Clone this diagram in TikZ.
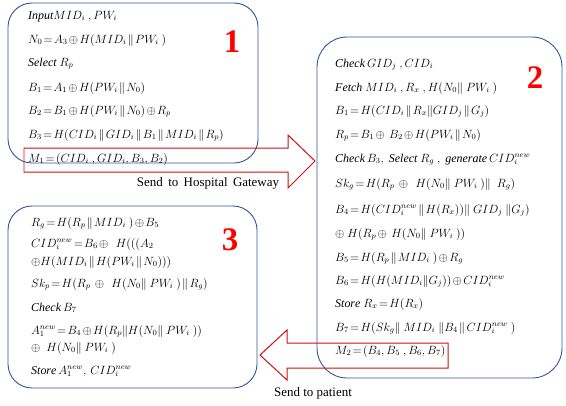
\documentclass[tikz,border=0pt]{standalone}
\usepackage{fontspec}
\setmainfont{Liberation Serif}
\definecolor{boxblue}{HTML}{2F5597}
\definecolor{arrred}{HTML}{D01010}
\definecolor{numred}{HTML}{FF0000}
\begin{document}
\begin{tikzpicture}[x=1bp,y=-1bp,
  stepline/.style={anchor=base west,inner sep=0pt,font=\fontsize{12}{14}\selectfont},
  panel/.style={draw=boxblue,line width=0.9pt,rounded corners=24bp},
  bigarrow/.style={draw=arrred,line width=1pt},
  numlabel/.style={text=numred,font=\bfseries\fontsize{33}{36}\selectfont,inner sep=0pt},
  caption/.style={font=\fontsize{13}{15}\selectfont,inner sep=0pt}]
\useasboundingbox (0,0) rectangle (566,405);
\thickmuskip=2mu plus 2mu
\medmuskip=2mu plus 1mu
% panels
\draw[panel] (8,3) rectangle (258,163);
\draw[panel,rounded corners=30bp] (317,37) rectangle (562,378);
\draw[panel] (8,206) rectangle (257,388);
% arrows
\draw[bigarrow] (24,148) -- (288,148) -- (288,135) -- (315,161) -- (288,188) -- (288,172) -- (24,172) -- cycle;
\draw[bigarrow] (448,343) -- (287,343) -- (287,330) -- (260,355) -- (287,380) -- (287,368) -- (448,368) -- cycle;
% numbers
\node[numlabel] (n1) at (232,42) {1};
\node[numlabel] (n2) at (535,78) {2};
\node[numlabel] (n3) at (230,240) {3};
% captions
\node[caption] (c1) at (208,183) {Send\, to\, Hospital\, Gateway};
\node[caption] (c2) at (313,393) {Send to patient};
% box 1
\node[stepline] (a1) at (28,19) {$\mathit{Input}MID_i\ , PW_i$};
\node[stepline] (a2) at (28,43) {$N_0=A_3\oplus H(MID_i\parallel PW_i\ )$};
\node[stepline] (a3) at (28,66) {$\mathit{Select}\ R_p$};
\node[stepline] (a4) at (28,91) {$B_1=A_1\oplus H(PW_i\parallel N_0)$};
\node[stepline] (a5) at (28,114) {$B_2=B_1\oplus H(PW_i\parallel N_0)\oplus R_p$};
\node[stepline] (a6) at (28,138) {$B_3=H(CID_i\parallel GID_i\parallel B_1\parallel MID_i\parallel R_p)$};
\node[stepline] (a7) at (28,162) {$M_1=(CID_i\ , GID_i, B_3, B_2)$};
% box 2
\node[stepline] (b1) at (335,67) {$\mathit{Check}\,GID_j\ , CID_i$};
\node[stepline] (b2) at (335,91) {$\mathit{Fetch}\ MID_i\ , R_x\ , H(N_0\Vert\ PW_i\ )$};
\node[stepline] (b3) at (335,114) {$B_1=H(CID_i\parallel R_x\Vert GID_j\parallel G_j)$};
\node[stepline] (b4) at (335,138) {$R_p=B_1\oplus\ B_2\oplus H(PW_i\parallel N_0)$};
\node[stepline] (b5) at (335,162) {$\mathit{Check}\,B_3,\ \mathit{Select}\ R_g\ ,\ \mathit{generate}\,CID_i^{new}$};
\node[stepline] (b6) at (335,187) {$Sk_g=H(R_p\ \oplus\ \ H(N_0\Vert\ PW_i\ )\Vert\ \ R_g)$};
\node[stepline] (b7) at (335,213) {$B_4=H(CID_i^{new}\parallel H(R_x))\Vert\ GID_j\ \Vert G_j)$};
\node[stepline] (b8) at (335,237) {$\oplus\ H(R_p\oplus\ H(N_0\Vert\ PW_i\ ))$};
\node[stepline] (b9) at (335,261) {$B_5=H(R_p\parallel MID_i\ )\oplus R_g$};
\node[stepline] (b10) at (335,284) {$B_6=H(H(MID_i\Vert G_j))\oplus CID_i^{new}$};
\node[stepline] (b11) at (335,307) {$\mathit{Store}\ R_x=H(R_x)$};
\node[stepline] (b12) at (335,331) {$B_7=H(Sk_g\Vert\ MID_i\ \Vert B_4\parallel CID_i^{new}\ )$};
\node[stepline] (b13) at (335,354) {$M_2=(B_4, B_5\ , B_6, B_7)$};
% box 3
\node[stepline] (d1) at (31,226) {$R_g=H(R_p\parallel MID_i\ )\oplus B_5$};
\node[stepline] (d2) at (31,247) {$CID_i^{new}=B_6\oplus\ \ H(((A_2$};
\node[stepline] (d3) at (31,265) {$\oplus H(MID_i\parallel H(PW_i\parallel N_0)))$};
\node[stepline] (d4) at (31,287) {$Sk_p=H(R_p\ \oplus\ \ H(N_0\Vert\ PW_i\ )\parallel R_g)$};
\node[stepline] (d5) at (31,311) {$\mathit{Check}\,B_7$};
\node[stepline] (d6) at (31,334) {$A_1^{new}=B_4\oplus H(R_p\Vert H(N_0\Vert\ PW_i\ ))$};
\node[stepline] (d7) at (31,351) {$\oplus\ \ H(N_0\Vert\ PW_i\ )$};
\node[stepline] (d8) at (31,374) {$\mathit{Store}\,A_1^{new},\,CID_i^{new}$};
\end{tikzpicture}
\end{document}
